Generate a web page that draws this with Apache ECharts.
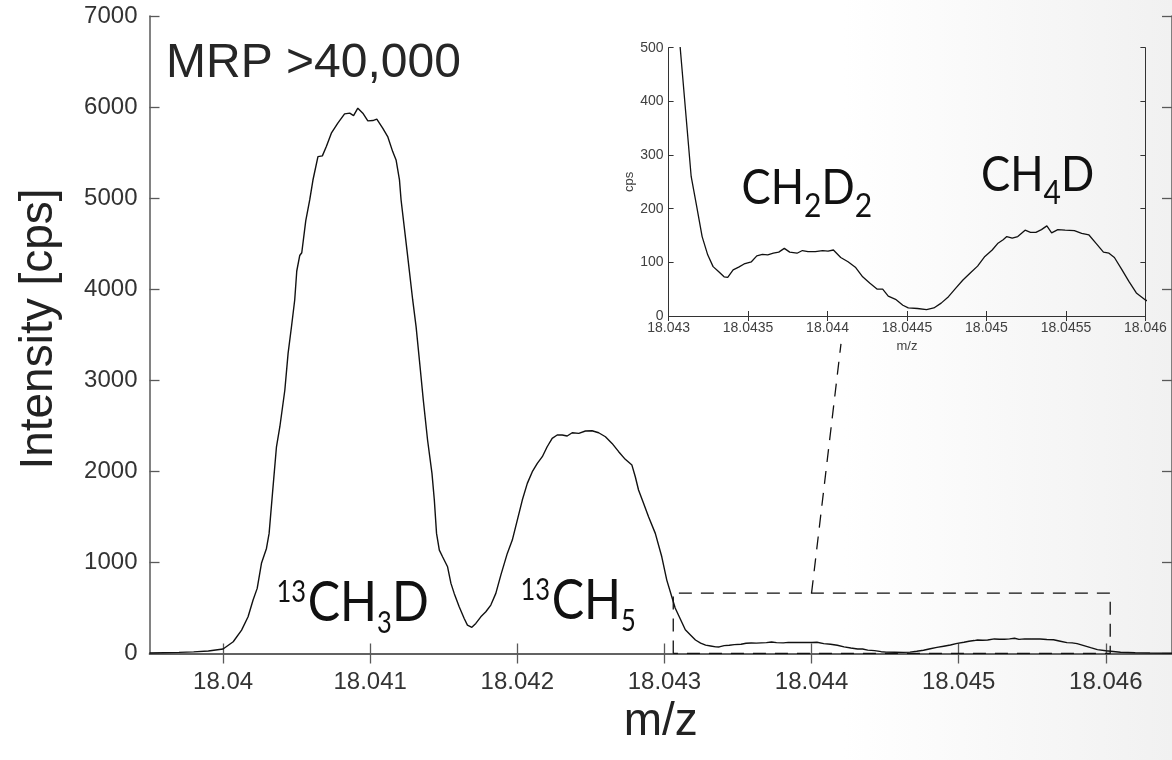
<!DOCTYPE html>
<html><head><meta charset="utf-8">
<script src="https://cdn.jsdelivr.net/npm/echarts@6/dist/echarts.min.js"></script>
<style>html,body{margin:0;padding:0;background:#fff}#c{width:1172px;height:760px}</style>
</head><body><div id="c"></div>
<script>
// ---- data (m/z, intensity in cps) ----
const mzPeaks = [18.0395,18.0397,18.0398,18.0399,18.04,18.040069,18.040126,18.04017,18.040204,18.040232,18.040261,18.040295,18.040313,18.040336,18.040363,18.040386,18.04042,18.040442,18.040465,18.040487,18.040501,18.040521,18.040535,18.040562,18.040589,18.040611,18.040645,18.040675,18.040702,18.040736,18.04078,18.040826,18.040861,18.040887,18.040916,18.04095,18.040984,18.041018,18.041045,18.041085,18.041119,18.041153,18.041176,18.041199,18.04121,18.04125,18.041289,18.041312,18.041339,18.041361,18.04139,18.04142,18.041436,18.041451,18.04147,18.041492,18.041526,18.041549,18.041571,18.041605,18.041639,18.041661,18.041691,18.041718,18.041752,18.041786,18.04182,18.041854,18.041888,18.041932,18.041966,18.042,18.042034,18.042068,18.042102,18.042136,18.04217,18.042203,18.042237,18.042271,18.042305,18.042339,18.042373,18.042418,18.042463,18.042508,18.042553,18.042599,18.042644,18.042689,18.042734,18.042779,18.042802,18.042824,18.042858,18.042892,18.042938,18.042982,18.043016,18.04305];
const cpsPeaks = [6,12,18,28,50,129,257,403,587,715,990,1154,1319,1759,2270,2490,2893,3296,3588,3882,4200,4370,4400,4750,4980,5199,5456,5464,5566,5713,5823,5925,5933,5907,5988,5933,5848,5852,5867,5768,5676,5511,5420,5200,4980,4430,3882,3589,3149,2783,2344,1978,1685,1319,1135,1062,952,770,660,513,385,312,287,330,403,458,532,660,861,1099,1245,1465,1685,1868,1996,2088,2161,2270,2363,2399,2399,2388,2424,2417,2443,2446,2424,2380,2307,2216,2132,2069,1941,1795,1649,1502,1319,1062,806,623];
const mzDetail = [18.043073,18.043119,18.043142,18.043177,18.043211,18.043246,18.04328,18.043314,18.043349,18.043372,18.043406,18.043441,18.043475,18.043521,18.043555,18.04359,18.043624,18.043659,18.043693,18.043728,18.043762,18.043808,18.043842,18.043877,18.043923,18.043969,18.044003,18.044037,18.044083,18.044129,18.044175,18.044221,18.044267,18.044313,18.044347,18.044382,18.044428,18.044474,18.044508,18.044566,18.044623,18.044669,18.044715,18.044761,18.044807,18.044852,18.044898,18.044944,18.04499,18.045036,18.04507,18.045105,18.045128,18.045162,18.045197,18.045243,18.045277,18.045311,18.045346,18.04538,18.04541,18.045449,18.045495,18.045553,18.045599,18.045645,18.045691,18.045736,18.045771,18.045805,18.045851,18.045897,18.045943,18.046];
const cpsDetail = [500,340,260,204,148,114,92,83,73,72,86,91,97,101,112,115,114,117,119,126,119,117,122,120,120,122,121,123,109,101,91,73,61,50,50,37,31,20,15,14,12,15,24,36,52,67,80,93,111,123,135,142,148,145,148,160,156,156,161,168,155,161,160,159,154,151,135,119,117,109,87,64,43,30];
const mzTail = [18.04605,18.0461,18.0462,18.0463,18.04645];
const cpsTail = [22,14,8,5,3];

const mainXTicks = [18.040,18.041,18.042,18.043,18.044,18.045,18.046];
const insetXTicks = [18.043,18.0435,18.044,18.0445,18.045,18.0455,18.046];
const zoomBoxX = [18.04306, 18.04603];
const zoomBoxTop = 663;
const connectorX = [18.044, 18.0442];
const connectorY = [663, 3400];

const spectrum = [];
[[mzPeaks,cpsPeaks],[mzDetail,cpsDetail],[mzTail,cpsTail]].forEach(([m,c]) => m.forEach((v,i)=>spectrum.push([v,c[i]])));
const boxData = [[zoomBoxX[0],0],[zoomBoxX[0],zoomBoxTop],[zoomBoxX[1],zoomBoxTop],[zoomBoxX[1],0],[zoomBoxX[0],0]];
const connData = [[connectorX[0],connectorY[0]],[connectorX[1],connectorY[1]]];

const fmt = v => String(parseFloat(Number(v).toFixed(4)));
const plain = v => String(v);
const AX = '#595959', TXT = '#333';
const F = 'Liberation Sans, Arial, sans-serif';

const chart = echarts.init(document.getElementById('c'), null, {renderer:'canvas'});
const option = {
  backgroundColor: {type:'linear',x:0,y:0,x2:1,y2:0,colorStops:[{offset:0,color:'#ffffff'},{offset:0.72,color:'#ffffff'},{offset:1,color:'#f1f1f1'}]},
  animation:false,
  grid:[
    {left:149.5, top:16, width:1027, height:637.5, containLabel:false},
    {left:668.6, top:47.7, width:476.8, height:268.3, containLabel:false}
  ],
  xAxis:[
    {type:'value', gridIndex:0, position:'bottom', min:18.0395, max:18.04645,
     axisLine:{lineStyle:{color:AX,width:1.5}},
     axisTick:{inside:true,length:10,customValues:mainXTicks,lineStyle:{color:AX,width:1.3}},
     axisLabel:{customValues:mainXTicks,formatter:fmt,fontSize:24,fontFamily:F,color:TXT,margin:17},
     splitLine:{show:false},
     name:'m/z', nameLocation:'middle', nameGap:40, nameTextStyle:{fontSize:46,fontFamily:F,color:'#222'}},
    {type:'value', gridIndex:0, position:'top', min:18.0395, max:18.04645,
     axisLine:{lineStyle:{color:AX,width:1.5}},
     axisTick:{inside:true,length:10,customValues:mainXTicks,lineStyle:{color:AX,width:1.3}},
     axisLabel:{show:false}, splitLine:{show:false}},
    {type:'value', gridIndex:1, position:'bottom', min:18.043, max:18.046,
     axisLine:{lineStyle:{color:'#333',width:1}},
     axisTick:{inside:true,length:5,customValues:insetXTicks,lineStyle:{color:'#333'}},
     axisLabel:{customValues:insetXTicks,formatter:fmt,fontSize:14,fontFamily:F,color:'#404040',margin:5},
     splitLine:{show:false},
     name:'m/z', nameLocation:'middle', nameGap:24, nameTextStyle:{fontSize:13,fontFamily:F,color:'#404040'}},
    {type:'value', gridIndex:1, position:'top', min:18.043, max:18.046,
     axisLine:{lineStyle:{color:'#333',width:1}},
     axisTick:{inside:true,length:5,customValues:insetXTicks,lineStyle:{color:'#333'}},
     axisLabel:{show:false}, splitLine:{show:false}}
  ],
  yAxis:[
    {type:'value', gridIndex:0, position:'left', min:0, max:7000, interval:1000,
     axisLine:{show:true,lineStyle:{color:AX,width:1.5}},
     axisTick:{show:true,inside:true,length:10,lineStyle:{color:AX,width:1.3}},
     axisLabel:{fontSize:24,fontFamily:F,color:TXT,margin:12,formatter:plain},
     splitLine:{show:false}},
    {type:'value', gridIndex:0, position:'right', min:0, max:7000, interval:1000,
     axisLine:{show:true,lineStyle:{color:AX,width:1.5}},
     axisTick:{show:true,inside:true,length:10,lineStyle:{color:AX,width:1.3}},
     axisLabel:{show:false}, splitLine:{show:false}},
    {type:'value', gridIndex:1, position:'left', min:0, max:500, interval:100,
     axisLine:{show:true,lineStyle:{color:'#333',width:1}},
     axisTick:{show:true,inside:true,length:5,lineStyle:{color:'#333'}},
     axisLabel:{fontSize:14,fontFamily:F,color:'#404040',margin:5,formatter:plain},
     splitLine:{show:false},
     name:'cps', nameLocation:'middle', nameGap:32, nameTextStyle:{fontSize:13,fontFamily:F,color:'#404040'}},
    {type:'value', gridIndex:1, position:'right', min:0, max:500, interval:100,
     axisLine:{show:true,lineStyle:{color:'#333',width:1}},
     axisTick:{show:true,inside:true,length:5,lineStyle:{color:'#333'}},
     axisLabel:{show:false}, splitLine:{show:false}}
  ],
  series:[
    {type:'line', xAxisIndex:0, yAxisIndex:0, data:spectrum, showSymbol:false, symbol:'none', smooth:false,
     lineStyle:{color:'#111',width:1.4}, clip:true, z:3},
    {type:'line', xAxisIndex:0, yAxisIndex:0, data:boxData, symbol:'none',
     lineStyle:{color:'#111',width:1.3,type:[13,9]}, z:2},
    {type:'line', xAxisIndex:0, yAxisIndex:0, data:connData, symbol:'none',
     lineStyle:{color:'#111',width:1.3,type:[13,9]}, z:2},
    {type:'line', xAxisIndex:2, yAxisIndex:2, data:spectrum, symbol:'none',
     lineStyle:{color:'#111',width:1.3}, clip:true, z:3}
  ]
};
chart.setOption(option);

// ---- annotation text (chemical formulas) placed at data coordinates ----
const mainLabels = [
  {parts:[['sup','13'],['n','CH'],['sub','3'],['n','D']], at:[18.040363, 345]},
  {parts:[['sup','13'],['n','CH'],['sub','5']], at:[18.042021, 367]}
];
const insetLabels = [
  {parts:[['n','CH'],['sub','2'],['n','D'],['sub','2']], at:[18.043459, 207]},
  {parts:[['n','CH'],['sub','4'],['n','D']], at:[18.044966, 232]}
];
const cv = document.createElement('canvas').getContext('2d');
const LF = 'Lato, sans-serif';
function w(t, s){ cv.font = s + 'px ' + LF; return cv.measureText(t).width; }
// st: {size, small, sx, supUp, subDown}
function formula(parts, px, py, st, out){
  let x = px;
  parts.forEach(([k,t]) => {
    const s = k === 'n' ? st.size : st.small;
    const base = k === 'sup' ? py - st.supUp : (k === 'sub' ? py + st.subDown : py);
    out.push({type:'text', x:x, y:base - s*0.34, scaleX:st.sx, z:10,
      style:{text:t, font:s+'px '+LF, fill:'#111', textAlign:'left', textVerticalAlign:'middle'}});
    x += (w(t, s) + (k==='sup'?2:0)) * st.sx;
  });
}
const mainStyle = {size:57, small:30, sx:0.85, supUp:20, subDown:11};
const insetStyle = {size:48, small:33, sx:0.91, supUp:16, subDown:13};
const gfx = [];
mainLabels.forEach(l => { const p = chart.convertToPixel({xAxisIndex:0,yAxisIndex:0}, l.at); formula(l.parts, p[0], p[1], mainStyle, gfx); });
insetLabels.forEach(l => { const p = chart.convertToPixel({xAxisIndex:2,yAxisIndex:2}, l.at); formula(l.parts, p[0], p[1], insetStyle, gfx); });
gfx.push({type:'text', left:166, top:40, z:10,
  style:{text:'MRP >40,000', font:'48px Liberation Sans, Arial, sans-serif', fill:'#262626'}});
gfx.push({type:'text', x:39, y:329, rotation:Math.PI/2, z:10,
  style:{text:'Intensity [cps]', font:'46px Liberation Sans, Arial, sans-serif', fill:'#222', textAlign:'center', textVerticalAlign:'middle'}});
chart.setOption({graphic:gfx});
</script></body></html>
